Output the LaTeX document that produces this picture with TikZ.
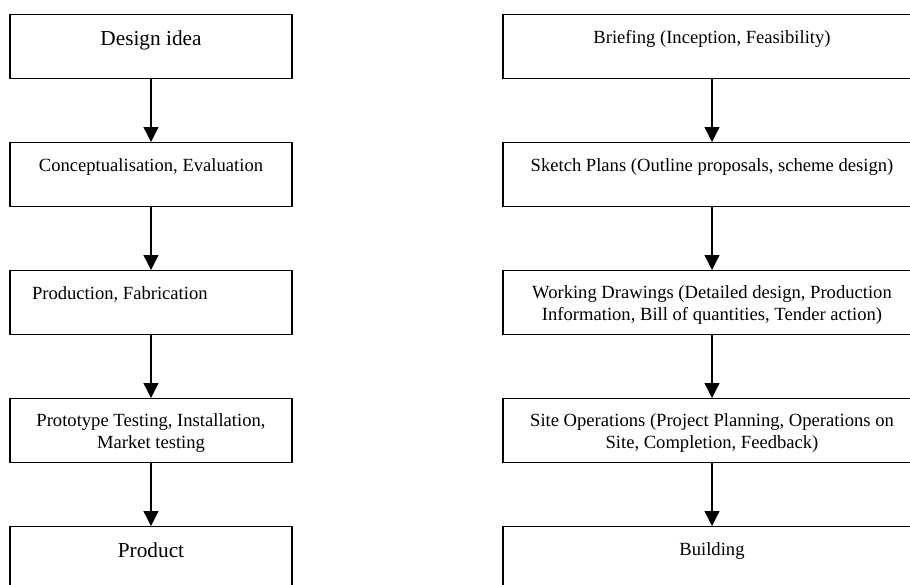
\documentclass[tikz,border=0pt]{standalone}
\usepackage{fontspec}
\setmainfont{Liberation Serif}
\usetikzlibrary{arrows.meta}
\newcommand\smallfs{\fontsize{18.6}{22}\selectfont}
\newcommand\bigfs{\fontsize{21.3}{24}\selectfont}
% #1 width, #2 height of first line (baseline offset from top), #3 text
\newcommand\boxtxt[3]{\parbox[c][64pt][t]{#1}{\centering\rule{0pt}{#2}#3}}
\tikzset{
  x=1pt, y=-1pt,
  stage/.style={draw, line width=1.3pt, rectangle, inner sep=0pt, anchor=north},
  arr/.style={line width=1.3pt, -{Triangle[width=15pt,length=15pt]}},
}
\begin{document}
\begin{tikzpicture}
\useasboundingbox (0,0) rectangle (910,584);
\clip (0,0) rectangle (910,584);
% left column
\node[stage] (l1) at (151,14) {\boxtxt{282pt}{31pt}{\bigfs Design idea}};
\node[stage] (l2) at (151,142) {\boxtxt{282pt}{29pt}{\smallfs Conceptualisation, Evaluation}};
\node[stage] (l3) at (151,270) {\parbox[c][64pt][t]{282pt}{\raggedright\smallfs\hspace*{22pt}\rule{0pt}{29pt}Production, Fabrication}};
\node[stage] (l4) at (151,398) {\boxtxt{282pt}{28pt}{\smallfs Prototype Testing, Installation,\\Market testing}};
\node[stage] (l5) at (151,526) {\boxtxt{282pt}{31pt}{\bigfs Product}};
% right column
\node[stage] (r1) at (712,14) {\boxtxt{418pt}{29pt}{\smallfs Briefing (Inception, Feasibility)}};
\node[stage] (r2) at (712,142) {\boxtxt{418pt}{29pt}{\smallfs Sketch Plans (Outline proposals, scheme design)}};
\node[stage] (r3) at (712,270) {\boxtxt{418pt}{28pt}{\smallfs Working Drawings (Detailed design, Production\\Information, Bill of quantities, Tender action)}};
\node[stage] (r4) at (712,398) {\boxtxt{418pt}{28pt}{\smallfs Site Operations (Project Planning, Operations on\\Site, Completion, Feedback)}};
\node[stage] (r5) at (712,526) {\boxtxt{418pt}{29pt}{\smallfs Building}};
% arrows
\draw[arr] (l1.south) -- (l2.north);
\draw[arr] (l2.south) -- (l3.north);
\draw[arr] (l3.south) -- (l4.north);
\draw[arr] (l4.south) -- (l5.north);
\draw[arr] (r1.south) -- (r2.north);
\draw[arr] (r2.south) -- (r3.north);
\draw[arr] (r3.south) -- (r4.north);
\draw[arr] (r4.south) -- (r5.north);
\end{tikzpicture}
\end{document}
